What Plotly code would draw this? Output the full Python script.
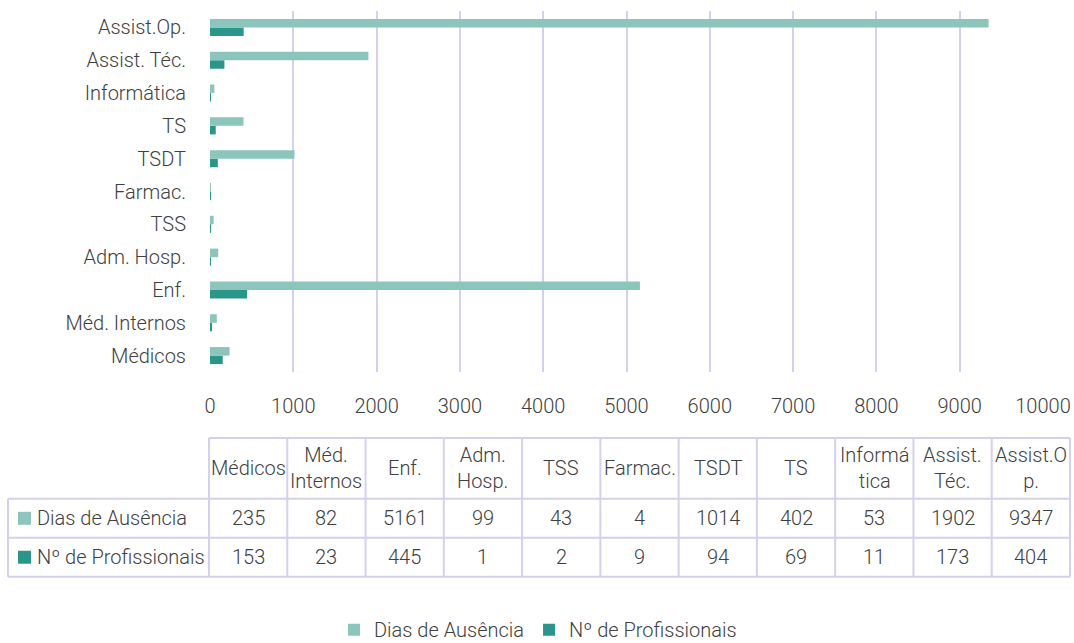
import plotly.graph_objects as go

# Categories (bottom to top on the bar chart, left to right in the table)
categories = ["Médicos", "Méd. Internos", "Enf.", "Adm. Hosp.", "TSS", "Farmac.",
              "TSDT", "TS", "Informática", "Assist. Téc.", "Assist.Op."]
header_labels = ["Médicos", "Méd.<br>Internos", "Enf.", "Adm.<br>Hosp.", "TSS", "Farmac.",
                 "TSDT", "TS", "Informá<br>tica", "Assist.<br>Téc.", "Assist.O<br>p."]
dias_ausencia = [235, 82, 5161, 99, 43, 4, 1014, 402, 53, 1902, 9347]
n_profissionais = [153, 23, 445, 1, 2, 9, 94, 69, 11, 173, 404]
x_ticks = [0, 1000, 2000, 3000, 4000, 5000, 6000, 7000, 8000, 9000, 10000]
x_tick_text = [str(v) for v in x_ticks]

LIGHT = "#8cc5bb"
DARK = "#2a968a"
GRID = "#d4d0ee"
TEXT = "#404040"
FONT = "Roboto, sans-serif"
FS = 20
WEIGHT = 300

W, H = 1074, 643
L, R, T, B = 210, 1043, 10.5, 372  # plot area in pixels


def px(x):
    return (x - L) / (R - L)


def py(y):
    return (B - y) / (B - T)


def font(size=FS):
    return dict(family=FONT, size=size, color=TEXT, weight=WEIGHT)


fig = go.Figure()
fig.add_trace(go.Bar(y=categories, x=n_profissionais, orientation="h",
                     name="Nº de Profissionais", marker_color=DARK, marker_line_width=0))
fig.add_trace(go.Bar(y=categories, x=dias_ausencia, orientation="h",
                     name="Dias de Ausência", marker_color=LIGHT, marker_line_width=0))

# Data table below the chart
col_w = (1070 - 209) / len(categories)
col_edges = [209 + i * col_w for i in range(len(categories) + 1)]
row_top, row_hdr, row_mid, row_bot = 438, 499, 538, 577
left_edge = 8

shapes = []
line = dict(color=GRID, width=2)
shapes.append(dict(type="line", xref="paper", yref="paper", x0=px(col_edges[0]), x1=px(col_edges[-1]),
                   y0=py(row_top), y1=py(row_top), line=line))
for yy in (row_hdr, row_mid, row_bot):
    shapes.append(dict(type="line", xref="paper", yref="paper", x0=px(left_edge), x1=px(col_edges[-1]),
                       y0=py(yy), y1=py(yy), line=line))
shapes.append(dict(type="line", xref="paper", yref="paper", x0=px(left_edge), x1=px(left_edge),
                   y0=py(row_hdr), y1=py(row_bot), line=line))
for xx in col_edges:
    shapes.append(dict(type="line", xref="paper", yref="paper", x0=px(xx), x1=px(xx),
                       y0=py(row_top), y1=py(row_bot), line=line))
# series keys inside the table
for ycen, col in (((row_hdr + row_mid) / 2, LIGHT), ((row_mid + row_bot) / 2, DARK)):
    shapes.append(dict(type="rect", xref="paper", yref="paper", x0=px(18), x1=px(31),
                       y0=py(ycen + 6.5), y1=py(ycen - 6.5), fillcolor=col, line=dict(width=0)))

annotations = []
for i, lab in enumerate(header_labels):
    xc = (col_edges[i] + col_edges[i + 1]) / 2
    annotations.append(dict(xref="paper", yref="paper", x=px(xc), y=py((row_top + row_hdr) / 2),
                            text=lab, showarrow=False, font=font(), xanchor="center",
                            yanchor="middle"))
    annotations.append(dict(xref="paper", yref="paper", x=px(xc), y=py((row_hdr + row_mid) / 2),
                            text=str(dias_ausencia[i]), showarrow=False, font=font(),
                            xanchor="center", yanchor="middle"))
    annotations.append(dict(xref="paper", yref="paper", x=px(xc), y=py((row_mid + row_bot) / 2),
                            text=str(n_profissionais[i]), showarrow=False, font=font(),
                            xanchor="center", yanchor="middle"))
annotations.append(dict(xref="paper", yref="paper", x=px(35), y=py((row_hdr + row_mid) / 2),
                        text="Dias de Ausência", showarrow=False, font=font(),
                        xanchor="left", yanchor="middle"))
annotations.append(dict(xref="paper", yref="paper", x=px(35), y=py((row_mid + row_bot) / 2),
                        text="Nº de Profissionais", showarrow=False, font=font(),
                        xanchor="left", yanchor="middle"))

fig.update_layout(
    width=W, height=H,
    margin=dict(l=L, r=W - R, t=T, b=H - B, pad=0, autoexpand=False),
    paper_bgcolor="white", plot_bgcolor="white",
    barmode="group", bargap=0.48, bargroupgap=0,
    font=font(),
    xaxis=dict(range=[0, 10000], tickvals=x_ticks, ticktext=x_tick_text, showgrid=True,
               gridcolor=GRID, gridwidth=2, zeroline=False, showline=False, ticks="outside",
               ticklen=16, tickcolor="rgba(0,0,0,0)", tickfont=font(), fixedrange=True,
               automargin=False),
    yaxis=dict(type="category", categoryorder="array", categoryarray=categories,
               showgrid=False, zeroline=False, showline=False, ticks="outside", ticklen=19,
               tickcolor="rgba(0,0,0,0)", tickfont=font(), automargin=False),
    legend=dict(orientation="h", x=px(538), xanchor="center", y=py(630), yanchor="middle",
                traceorder="reversed", font=font(), itemwidth=30),
    shapes=shapes, annotations=annotations,
    showlegend=True,
)

fig.write_html("out.html")
